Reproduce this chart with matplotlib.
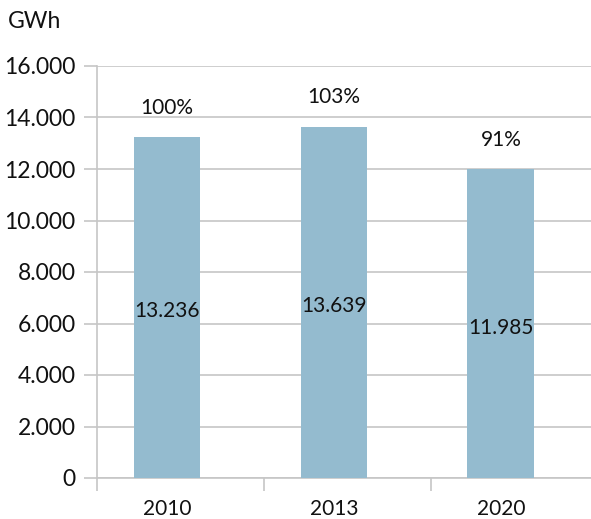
import matplotlib.pyplot as plt

years = ["2010", "2013", "2020"]
gwh = [13236, 13639, 11985]
share = ["100%", "103%", "91%"]
yticks = [0, 2000, 4000, 6000, 8000, 10000, 12000, 14000, 16000]

plt.rcParams['font.family'] = ['Lato', 'DejaVu Sans']

fig = plt.figure(figsize=(5.91, 5.19), dpi=100)
ax = fig.add_axes([97 / 591, 1 - 478 / 519, 494 / 591, 412 / 519])

bar_col = "#94bbcf"
grid_col = "#c6c6c6"
txt_col = "#111111"
x = list(range(len(years)))
ax.bar(x, gwh, width=0.4, color=bar_col, zorder=2)

for i, (v, s) in enumerate(zip(gwh, share)):
    lbl = f"{v:,}".replace(",", ".")
    ax.text(i, v / 2 - 150, lbl, ha="center", va="center", fontsize=15, color=txt_col, zorder=3)
    ax.text(i, v + 1150, s, ha="center", va="center", fontsize=15, color=txt_col, zorder=3)

# bars sit a little left of the middle of each category slot
off = 0.42
ax.set_xlim(-off, 3 - off - 0.04)
ax.set_ylim(0, 16000)
ax.set_yticks(yticks)
ax.set_yticklabels([f"{t:,}".replace(",", ".") for t in yticks], fontsize=16.5, color=txt_col)
ax.yaxis.grid(True, color=grid_col, linewidth=1.2, zorder=0)
ax.tick_params(axis="y", length=9.5, color=grid_col, width=1.2, pad=6)

# category boundaries as x ticks, labels at the bar centres
ax.set_xticks([i - off for i in x], minor=False)
ax.set_xticklabels([])
ax.set_xticks(x, minor=True)
ax.set_xticklabels(years, minor=True, fontsize=15, color=txt_col)
ax.tick_params(axis="x", which="major", length=9.5, color=grid_col, width=1.2)
ax.tick_params(axis="x", which="minor", length=0, pad=15)

for side in ["top", "right"]:
    ax.spines[side].set_visible(False)
for side in ["left", "bottom"]:
    ax.spines[side].set_color(grid_col)
    ax.spines[side].set_linewidth(1.2)
    ax.spines[side].set_zorder(1)

fig.text(8 / 591, 1 - 22 / 519, "GWh", fontsize=16.5, color=txt_col, va="center", ha="left")

fig.savefig("out.png", dpi=100)
